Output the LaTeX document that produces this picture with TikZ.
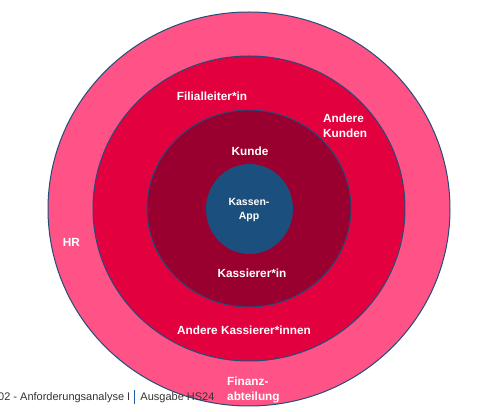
\documentclass[tikz,border=0pt]{standalone}
\usepackage{fontspec}
\setmainfont{Liberation Sans}
\usetikzlibrary{shapes.geometric}
\definecolor{ringA}{HTML}{FF5286}
\definecolor{ringB}{HTML}{E3003F}
\definecolor{ringC}{HTML}{9A002F}
\definecolor{coreC}{HTML}{1B4F7E}
\definecolor{edgeC}{HTML}{1F4E79}
\definecolor{footC}{HTML}{333333}
\definecolor{barC}{HTML}{1F5FA8}
\begin{document}
\begin{tikzpicture}[x=1pt,y=1pt,
  ring/.style={ellipse, draw=edgeC, line width=1pt, inner sep=0pt},
  lab/.style={text=white, inner sep=0pt, font=\bfseries\fontsize{11.8}{15}\selectfont, align=center},
  labl/.style={lab, align=left, anchor=west}]
\useasboundingbox (0,0) rectangle (496,412);
\fill[white] (0,0) rectangle (496,412);
\node[ring, fill=ringA, minimum width=402pt, minimum height=394pt] (outer) at (249,203) {};
\node[ring, fill=ringB, minimum width=312pt, minimum height=305pt] (mid) at (249,203.5) {};
\node[ring, fill=ringC, minimum width=204pt, minimum height=197pt] (inner) at (249,203.5) {};
\node[ellipse, fill=coreC, inner sep=0pt, minimum width=87pt, minimum height=90pt] (core) at (249.5,203) {};
\node[lab, font=\bfseries\fontsize{10.5}{14}\selectfont] (app) at (249,202) {Kassen-\\App};
\node[lab] (kunde) at (250,261) {Kunde};
\node[lab] (kass) at (252,139) {Kassierer*in};
\node[lab] (fil) at (212,316) {Filialleiter*in};
\node[labl] (ak) at (323,286.5) {Andere\\Kunden};
\node[lab] (aki) at (244,82) {Andere Kassierer*innen};
\node[lab] (hr) at (71.5,170) {HR};
\node[labl] (fin) at (227,22.5) {Finanz-\\abteilung};
\node[anchor=west, inner sep=0pt, text=footC, font=\fontsize{11}{13}\selectfont] (footer) at (-2,15)
  {02 - Anforderungsanalyse I\hspace{4pt}\textcolor{barC}{\rule[-3pt]{1.2pt}{14pt}}\hspace{5pt}Ausgabe HS24};
\end{tikzpicture}
\end{document}
